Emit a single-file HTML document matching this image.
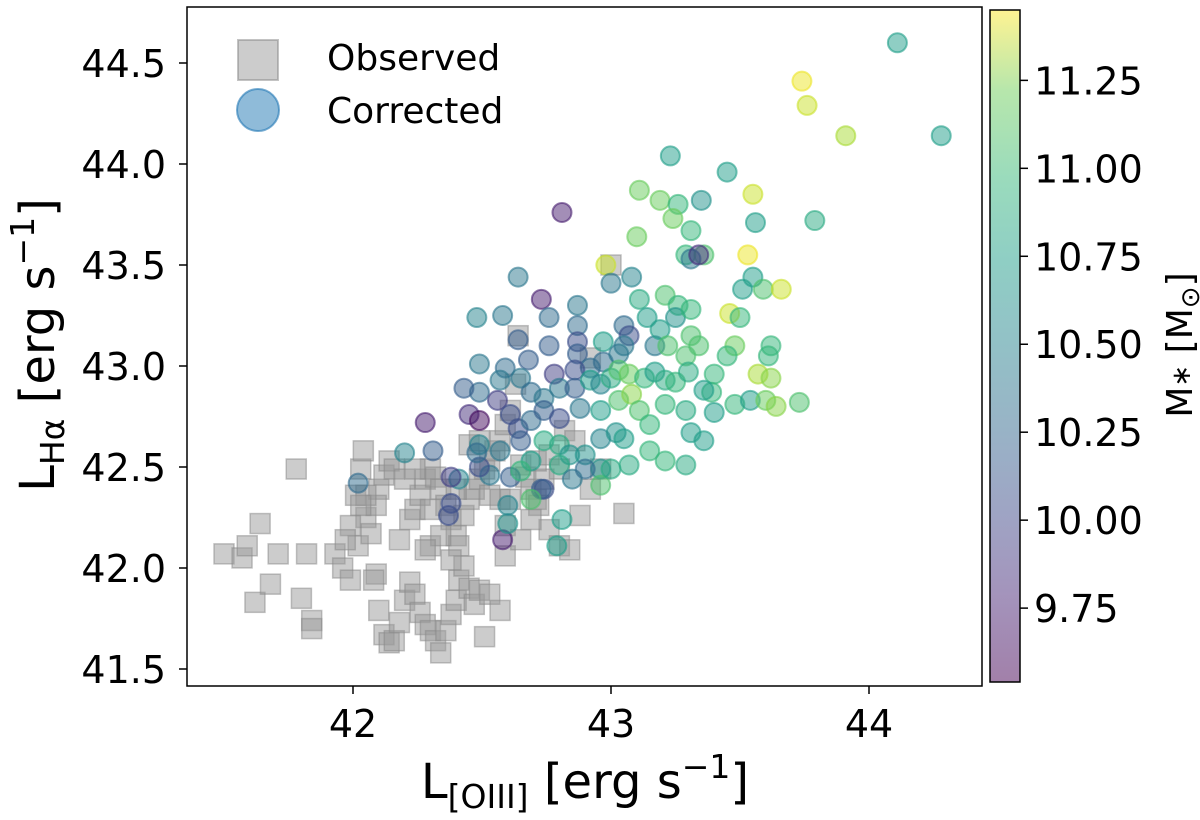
<!DOCTYPE html>
<html><head><meta charset="utf-8"><style>
body{margin:0;background:#fff;}
svg{display:block;font-family:"DejaVu Sans","Liberation Sans",sans-serif;}
</style></head><body>
<svg id="chart" width="1200" height="820" viewBox="0 0 1200 820">
<defs>
<linearGradient id="cbg" x1="0" y1="1" x2="0" y2="0">
<stop offset="0" stop-color="#440154" stop-opacity="0.5"/>
<stop offset="0.13" stop-color="#482878" stop-opacity="0.5"/>
<stop offset="0.25" stop-color="#3e4989" stop-opacity="0.5"/>
<stop offset="0.38" stop-color="#31688e" stop-opacity="0.5"/>
<stop offset="0.5" stop-color="#26828e" stop-opacity="0.5"/>
<stop offset="0.63" stop-color="#1f9e89" stop-opacity="0.5"/>
<stop offset="0.75" stop-color="#35b779" stop-opacity="0.5"/>
<stop offset="0.88" stop-color="#6ece58" stop-opacity="0.5"/>
<stop offset="1" stop-color="#fde725" stop-opacity="0.5"/>
</linearGradient>
<clipPath id="plotclip"><rect x="187" y="7" width="795" height="679"/></clipPath>
</defs>
<g id="marks" clip-path="url(#plotclip)"></g>
<rect x="187" y="7" width="795" height="679" fill="none" stroke="#000" stroke-width="1.5"/>
<g id="axes"></g>
<g>
<rect x="238" y="40" width="40" height="40" fill="#999" fill-opacity="0.5" stroke="#888" stroke-opacity="0.5" stroke-width="2"/>
<text x="327" y="70" font-size="36">Observed</text>
<circle cx="258" cy="110" r="21" fill="#1f77b4" fill-opacity="0.5" stroke="#1f77b4" stroke-opacity="0.6" stroke-width="2"/>
<text x="327" y="123" font-size="36">Corrected</text>
</g>
<rect x="990" y="10" width="30" height="672" fill="url(#cbg)" stroke="#000" stroke-width="1.5"/>
<text x="585" y="798" font-size="48" text-anchor="middle">L<tspan font-size="33" dy="10">[OIII]</tspan><tspan dy="-10"> [erg s</tspan><tspan font-size="33" dy="-20">−1</tspan><tspan dy="20">]</tspan></text>
<text transform="translate(54,345) rotate(-90)" font-size="48" text-anchor="middle">L<tspan font-size="33" dy="10">Hα</tspan><tspan dy="-10"> [erg s</tspan><tspan font-size="33" dy="-20">−1</tspan><tspan dy="20">]</tspan></text>
<text transform="translate(1192,345) rotate(-90)" font-size="36" text-anchor="middle">M<tspan font-size="26" dy="-2">∗</tspan><tspan dy="2"> [M</tspan><tspan font-size="26" dy="7">⊙</tspan><tspan dy="-7">]</tspan></text>
</svg>
<script>
const sqX=[41.50,41.57,41.59,41.62,41.68,41.71,41.64,41.78,41.80,41.82,41.84,41.84,41.93,41.96,41.99,42.02,42.01,42.03,42.05,42.07,42.09,42.08,42.10,42.12,42.14,42.16,42.18,42.20,42.22,42.24,42.26,42.28,42.30,42.32,42.34,42.36,42.38,42.40,42.41,42.43,42.45,42.47,42.49,42.51,42.53,42.57,42.59,42.18,42.22,42.24,42.26,42.28,42.30,42.32,42.34,42.36,42.38,42.40,42.41,42.43,42.45,42.47,42.49,42.51,42.53,42.55,42.57,42.59,42.61,42.63,42.64,42.65,42.67,42.69,42.71,42.72,42.74,42.76,42.80,42.84,42.88,42.92,42.96,43.00,43.05,42.10,42.12,42.14,42.16,42.20,42.09,42.05,42.03,41.99,41.97,42.30,42.34,42.38,42.40,42.59,42.65,42.69,42.45,42.49,42.53,42.57,42.61,42.71,42.76,42.80,42.82,42.86,42.30,42.28,42.24,42.04,42.92];
const sqY=[42.07,42.05,42.11,41.83,41.92,42.07,42.22,42.49,41.85,42.07,41.74,41.70,42.07,42.00,41.94,42.11,42.36,42.49,42.25,42.17,41.97,41.94,41.79,41.67,41.63,41.64,41.73,41.84,41.93,41.87,41.78,41.72,41.69,41.64,41.58,41.69,41.77,41.84,41.94,42.01,41.90,41.82,41.89,41.66,41.87,41.79,42.06,42.14,42.24,42.29,42.36,42.44,42.49,42.45,42.39,42.31,42.24,42.16,42.11,42.26,42.34,42.39,42.44,42.49,42.53,42.58,42.63,42.71,42.78,42.91,43.15,42.51,42.45,42.39,42.34,42.31,42.44,42.19,42.11,42.09,42.26,42.39,42.49,43.50,42.27,42.39,42.46,42.53,42.49,42.44,42.31,42.36,42.31,42.21,42.14,42.11,42.16,42.04,42.39,42.21,42.14,42.24,42.61,42.63,42.36,42.34,42.34,42.53,42.56,42.49,42.68,42.63,42.29,42.09,42.49,42.58,43.04];
const cX=[44.11,44.28,43.74,43.76,43.91,43.23,43.45,43.11,43.19,43.26,43.35,43.55,42.81,43.10,43.24,43.31,43.56,43.79,43.29,43.36,43.31,43.34,43.53,43.55,43.51,43.59,43.66,42.64,42.98,43.08,43.00,42.73,42.48,42.58,43.11,43.21,43.26,43.25,43.31,43.46,43.50,43.31,43.48,43.14,43.62,42.87,42.76,42.64,42.76,42.87,42.87,43.05,43.07,43.05,42.97,43.17,43.19,43.22,43.29,43.34,43.40,43.45,43.39,43.61,43.57,43.62,43.73,42.87,42.92,42.97,43.03,42.86,42.78,42.68,42.59,42.49,42.49,42.57,42.65,42.69,42.74,42.80,42.86,42.92,42.96,43.00,43.03,43.07,43.13,43.17,43.21,43.25,43.30,43.36,43.48,43.54,43.60,43.64,43.40,43.36,42.43,42.45,42.49,42.56,42.61,42.64,42.69,42.74,42.80,42.88,42.96,43.03,43.08,43.11,43.15,43.21,43.29,42.74,42.65,42.49,42.57,42.69,42.80,42.84,42.90,42.96,43.02,43.05,42.96,43.07,42.80,43.31,43.29,43.15,43.21,42.96,43.00,42.20,42.28,42.53,42.61,42.74,42.85,42.90,42.41,42.38,42.49,42.48,42.38,42.37,42.02,42.31,42.58,42.79,42.81,42.60,42.60,42.65,42.73,42.69];
const cY=[44.60,44.14,44.41,44.29,44.14,44.04,43.96,43.87,43.82,43.80,43.82,43.85,43.76,43.64,43.73,43.67,43.71,43.72,43.55,43.55,43.53,43.55,43.55,43.44,43.38,43.38,43.38,43.44,43.50,43.44,43.41,43.33,43.24,43.25,43.33,43.35,43.30,43.24,43.28,43.26,43.24,43.15,43.10,43.24,43.10,43.30,43.24,43.13,43.10,43.20,43.12,43.20,43.15,43.10,43.12,43.10,43.18,43.10,43.05,43.10,42.96,43.05,42.87,43.05,42.96,42.94,42.82,43.06,42.99,43.02,43.06,42.98,42.96,43.03,42.99,43.01,42.87,42.93,42.94,42.87,42.84,42.89,42.89,42.93,42.91,42.94,42.98,42.96,42.94,42.97,42.93,42.92,42.97,42.88,42.81,42.83,42.83,42.80,42.77,42.63,42.89,42.76,42.73,42.83,42.76,42.69,42.73,42.78,42.74,42.79,42.78,42.83,42.86,42.78,42.71,42.81,42.78,42.63,42.63,42.61,42.58,42.53,42.61,42.56,42.56,42.64,42.67,42.64,42.49,42.51,42.51,42.67,42.51,42.58,42.53,42.41,42.49,42.57,42.72,42.46,42.45,42.39,42.44,42.49,42.44,42.45,42.50,42.57,42.32,42.26,42.42,42.58,42.14,42.11,42.24,42.22,42.31,42.48,42.39,42.34];
const cM=[10.6,10.6,11.4,11.3,11.2,10.6,10.6,11.0,11.0,10.8,10.5,11.3,9.7,11.0,11.0,10.8,10.6,10.7,10.8,10.9,10.3,9.8,11.4,10.6,10.6,10.9,11.3,10.3,11.3,10.4,10.3,9.7,10.4,10.3,10.7,10.9,10.8,10.5,10.8,11.3,10.8,10.9,11.0,10.6,10.8,10.3,10.2,10.1,10.1,10.2,10.0,10.2,10.0,10.3,10.6,10.3,10.6,10.9,10.9,10.9,10.8,10.8,10.8,10.8,11.2,11.1,10.9,10.1,10.2,10.2,10.3,10.0,9.9,10.1,10.2,10.3,10.2,10.3,10.3,10.2,10.3,10.3,10.1,10.6,10.4,10.7,10.9,11.0,10.8,10.6,10.7,10.8,10.7,10.6,10.8,10.6,11.0,11.1,10.6,10.6,10.1,9.8,9.6,9.9,10.0,10.0,10.2,10.1,10.0,10.3,10.6,10.9,11.1,10.9,10.8,10.8,10.7,10.7,10.1,10.4,10.3,10.6,10.7,10.5,10.5,10.4,10.5,10.6,10.5,10.7,10.7,10.6,10.7,10.8,10.8,10.9,10.7,10.4,9.7,10.3,10.1,10.0,10.3,10.2,10.4,9.9,10.0,10.2,10.0,10.0,10.2,10.1,9.7,10.6,10.6,10.5,10.4,10.8,10.1,10.9];
const xTicks=[42,43,44];
const yTicks=[41.5,42.0,42.5,43.0,43.5,44.0,44.5];
const cbTicks=[9.75,10.00,10.25,10.50,10.75,11.00,11.25];

const NS='http://www.w3.org/2000/svg';
const xs=v=>353+(v-42)*258;
const ys=v=>669-(v-41.5)*202;
const cbMin=9.54,cbMax=11.45;
const cbs=v=>682-(v-cbMin)/(cbMax-cbMin)*672;
const vir=[[68,1,84],[72,40,120],[62,73,137],[49,104,142],[38,130,142],[31,158,137],[53,183,121],[110,206,88],[181,222,43],[253,231,37]];
function color(m){let t=(m-cbMin)/(cbMax-cbMin);t=Math.max(0,Math.min(1,t))*(vir.length-1);const i=Math.min(Math.floor(t),vir.length-2),f=t-i;const c=vir[i].map((a,k)=>Math.round(a+(vir[i+1][k]-a)*f));return 'rgb('+c.join(',')+')';}
const marks=document.getElementById('marks');
const axes=document.getElementById('axes');
function mk(tag,attrs,parent){const e=document.createElementNS(NS,tag);for(const k in attrs)e.setAttribute(k,attrs[k]);parent.appendChild(e);return e;}
for(let i=0;i<sqX.length;i++){
  const r=mk('rect',{x:xs(sqX[i])-10,y:ys(sqY[i])-10,width:20,height:20,fill:'#999','fill-opacity':0.5,stroke:'#888','stroke-opacity':0.5,'stroke-width':1.5},marks);
  
  
}
for(let i=0;i<cX.length;i++){
  const col=color(cM[i]);
  const c=mk('circle',{cx:xs(cX[i]),cy:ys(cY[i]),r:9.5,fill:col,'fill-opacity':0.5,stroke:col,'stroke-opacity':0.6,'stroke-width':2},marks);
  
  
}
xTicks.forEach(v=>{
  const l=mk('line',{x1:xs(v),x2:xs(v),y1:686,y2:694,stroke:'#000','stroke-width':1.5},axes);
  
  
  const t=mk('text',{x:xs(v),y:737,'font-size':38,'text-anchor':'middle'},axes);
  
  
  t.textContent=String(v);
});
yTicks.forEach(v=>{
  const l=mk('line',{x1:179,x2:187,y1:ys(v),y2:ys(v),stroke:'#000','stroke-width':1.5},axes);
  
  
  const t=mk('text',{x:166,y:ys(v)+14,'font-size':38,'text-anchor':'end'},axes);
  
  
  t.textContent=v.toFixed(1);
});
cbTicks.forEach(v=>{
  const l=mk('line',{x1:1020,x2:1028,y1:cbs(v),y2:cbs(v),stroke:'#000','stroke-width':1.5},axes);
  
  
  const t=mk('text',{x:1034,y:cbs(v)+14,'font-size':38},axes);
  
  
  t.textContent=v.toFixed(2);
});
</script>
</body></html>
